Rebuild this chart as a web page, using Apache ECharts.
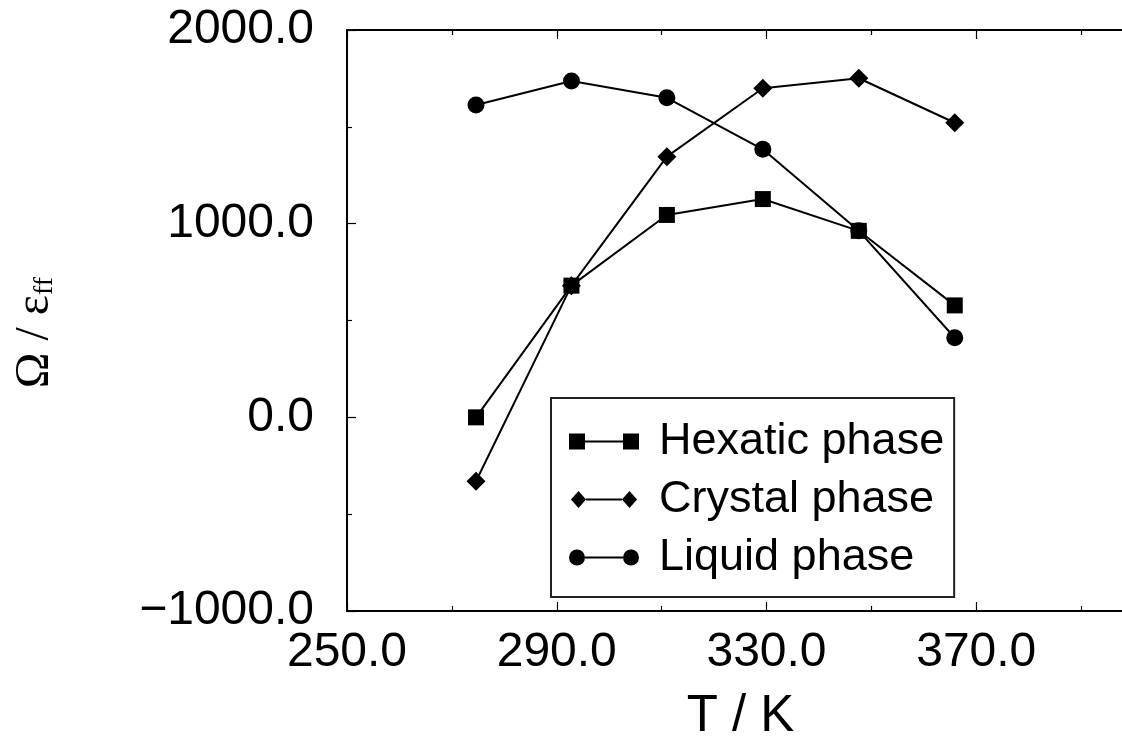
<!DOCTYPE html>
<html>
<head>
<meta charset="utf-8">
<script src="https://cdn.jsdelivr.net/npm/echarts@6/dist/echarts.min.js"></script>
<style>
html,body{margin:0;padding:0;background:#fff;}
#chart{width:1122px;height:738px;}
</style>
</head>
<body>
<div id="chart"></div>
<script>
// Data
const temperatures = [274.6, 292.8, 311.0, 329.3, 347.6, 365.9];
const hexaticPhase = [0, 680, 1045, 1127, 963, 578];
const crystalPhase = [-330, 680, 1346, 1699, 1751, 1521];
const liquidPhase = [1613, 1737, 1650, 1384, 963, 411];
const seriesNames = ['Hexatic phase', 'Crystal phase', 'Liquid phase'];
const xTitle = 'T / K';
const yTitle = '{m|Ω / ε}{sub|ff}';

const pairs = vals => temperatures.map((t, i) => [t, vals[i]]);
const fmt = v => (v < 0 ? '\u2212' + Math.abs(v).toFixed(1) : v.toFixed(1));

const SANS = '"Liberation Sans", Arial, Helvetica, sans-serif';
const SERIF = '"Liberation Serif", "Times New Roman", serif';

const icons = {
  rect: 'path://M0,0H16V16H0Z M16,7H54V9H16Z M54,0H70V16H54Z',
  diamond: 'path://M0,8L8,-1L16,8L8,17Z M16,7H54V9H16Z M54,8L62,-1L70,8L62,17Z',
  circle: 'path://M0,8A8,8,0,1,1,16,8A8,8,0,1,1,0,8Z M16,7H54V9H16Z M54,8A8,8,0,1,1,70,8A8,8,0,1,1,54,8Z'
};

const chart = echarts.init(document.getElementById('chart'), null, {renderer: 'canvas'});

const commonX = {
  type: 'value', min: 250, max: 410, interval: 40,
  axisLine: {show: true, onZero: false, lineStyle: {color: '#000', width: 2}},
  axisTick: {show: true, inside: true, length: 9, lineStyle: {color: '#000', width: 1.2}},
  minorTick: {show: true, splitNumber: 2, length: 5, lineStyle: {color: '#000', width: 1.2}},
  splitLine: {show: false}, minorSplitLine: {show: false}
};

const option = {
  animation: false,
  backgroundColor: '#fff',
  grid: {left: 347, top: 30, width: 839, height: 581, containLabel: false, outerBoundsMode: 'none'},
  legend: {
    orient: 'vertical',
    left: 551, top: 398,
    padding: [21, 10, 17, 18],
    itemGap: 13,
    itemWidth: 70, itemHeight: 17,
    borderColor: '#222', borderWidth: 2,
    backgroundColor: '#fff',
    textStyle: {fontFamily: SANS, fontSize: 45, lineHeight: 44, color: '#000', padding: [0, 0, 0, 15]},
    data: [
      {name: seriesNames[0], icon: icons.rect},
      {name: seriesNames[1], icon: icons.diamond},
      {name: seriesNames[2], icon: icons.circle}
    ]
  },
  xAxis: [
    Object.assign({}, commonX, {
      position: 'bottom',
      name: xTitle, nameLocation: 'middle', nameGap: 80,
      nameTextStyle: {fontFamily: SANS, fontSize: 51, color: '#000', padding: [0, 52, 0, 0]},
      axisLabel: {show: true, margin: 18, fontFamily: SANS, fontSize: 48, color: '#000', formatter: fmt, showMaxLabel: false}
    }),
    Object.assign({}, commonX, {
      position: 'top',
      axisLabel: {show: false}
    })
  ],
  yAxis: [{
    type: 'value', min: -1000, max: 2000, interval: 1000,
    position: 'left',
    axisLine: {show: true, onZero: false, lineStyle: {color: '#000', width: 2}},
    axisTick: {show: true, inside: true, length: 9, lineStyle: {color: '#000', width: 1.2}},
    minorTick: {show: true, splitNumber: 2, length: 5, lineStyle: {color: '#000', width: 1.2}},
    splitLine: {show: false},
    axisLabel: {show: true, margin: 33, fontFamily: SANS, fontSize: 48, color: '#000', formatter: fmt},
    name: yTitle, nameLocation: 'middle', nameGap: 288, nameRotate: 90,
    nameTextStyle: {
      fontFamily: SERIF, fontSize: 48, color: '#000', padding: [0, 24, 0, 0],
      rich: {
        m: {fontFamily: SERIF, fontSize: 48, lineHeight: 48, padding: [0, 0, 14, 0], verticalAlign: 'top', color: '#000'},
        sub: {fontFamily: SERIF, fontSize: 28, lineHeight: 28, verticalAlign: 'bottom', color: '#000'}
      }
    }
  }],
  series: [
    {name: seriesNames[0], type: 'line', data: pairs(hexaticPhase), symbol: 'rect', symbolSize: 16,
     lineStyle: {color: '#000', width: 2}, itemStyle: {color: '#000'}, z: 3},
    {name: seriesNames[1], type: 'line', data: pairs(crystalPhase), symbol: 'diamond', symbolSize: 19,
     lineStyle: {color: '#000', width: 2}, itemStyle: {color: '#000'}, z: 3},
    {name: seriesNames[2], type: 'line', data: pairs(liquidPhase), symbol: 'circle', symbolSize: 17,
     lineStyle: {color: '#000', width: 2}, itemStyle: {color: '#000'}, z: 3}
  ]
};
chart.setOption(option);
</script>
</body>
</html>
